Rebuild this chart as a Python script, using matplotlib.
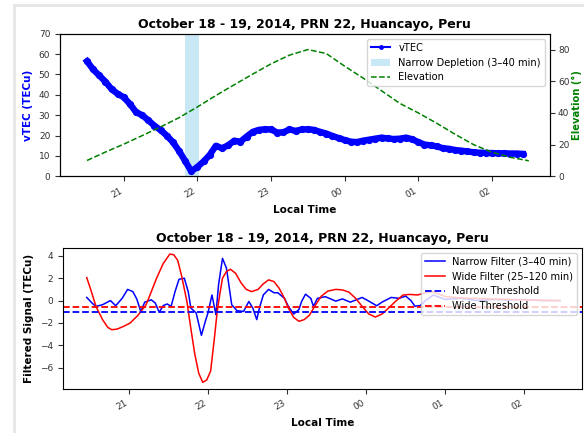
import numpy as np
import pandas as pd
import matplotlib
matplotlib.use("Agg")
from matplotlib import pyplot as plt
import matplotlib.dates as mdates
from matplotlib.lines import Line2D
from matplotlib.patches import Patch

TITLE = "October 18 - 19, 2014, PRN 22, Huancayo, Peru"
BASE = pd.Timestamp("2014-10-18 20:00")

# vTEC, every 5 min from 20:30 (minutes after 20:00)
vtec_min = list(range(30, 390, 5))
vtec = [56.5, 52.5, 49.5, 46.5, 42.8, 40.5, 38.8, 35.5, 31.5, 30.0, 27.5, 24.8,
        22.7, 20.0, 16.8, 12.5, 7.5, 2.5, 4.6, 7.3, 10.5, 15.0, 13.8, 15.2,
        17.5, 17.0, 19.5, 21.8, 22.8, 23.1, 23.0, 21.5, 21.6, 23.0, 22.3, 23.0,
        23.1, 22.8, 21.8, 21.0, 19.8, 18.8, 17.8, 17.0, 16.8, 17.5, 18.0, 18.5,
        19.0, 18.6, 18.3, 18.5, 19.0, 18.2, 16.8, 15.6, 15.2, 14.7, 13.8, 13.5,
        12.9, 12.6, 12.2, 11.8, 11.6, 11.5, 11.4, 11.3, 11.3, 11.2, 11.2, 11.0]

# elevation, every 15 min from 20:30
elev_min = list(range(30, 391, 15))
elev = [10.0, 15.3, 20.3, 25.7, 31.2, 37.0, 43.8, 51.0, 57.8, 64.5, 71.0, 76.5,
        80.0, 77.5, 69.5, 62.0, 54.0, 46.0, 40.0, 33.5, 26.5, 20.0, 15.2, 12.0, 9.8]

depletion_min = [110, 121]

# narrow filter (3-40 min)
narrow_min = [28, 32, 35, 40, 46, 50, 55, 59, 63, 66, 69, 72, 77, 80, 83, 86, 89,
              92, 95, 98, 102, 105, 107, 111, 115, 118, 120, 123, 126, 128, 131,
              134, 138, 142, 147, 151, 154, 157, 159, 162, 166, 170, 173, 178,
              181, 185, 189, 191, 194, 198, 200, 203, 209, 217, 222, 228, 237,
              242, 248, 252, 259, 265, 270, 274, 277, 281, 285, 291, 300, 312,
              324, 336, 348, 360, 372, 387]
narrow = [0.28, -0.22, -0.52, -0.37, 0.0, -0.46, 0.22, 1.0, 0.8, 0.13, -0.97,
          -0.14, 0.07, -0.22, -1.05, -0.45, -0.3, -0.52, 0.8, 1.9, 2.0, 0.8,
          -0.67, -1.1, -3.1, -1.85, -1.1, 0.5, -1.26, 1.4, 3.77, 2.9, -0.37,
          -0.9, -0.97, -0.08, -0.67, -1.7, -0.67, 0.51, 1.0, 0.7, 0.7, 0.2,
          -0.52, -1.2, -0.8, -0.08, 0.57, 0.2, -0.52, 0.2, 0.35, -0.05, 0.15,
          -0.14, 0.28, -0.05, -0.46, -0.14, 0.28, 0.2, 0.4, 0.0, -0.5, -0.45,
          0.0, 0.5, 0.1, 0.2, 0.0, 0.1, 0.05, 0.1, 0.0, 0.0]

# wide filter (25-120 min)
wide_min = [28, 31, 35, 40, 44, 47, 51, 56, 61, 67, 73, 77, 81, 86, 91, 94, 97,
            100, 104, 107, 110, 113, 116, 119, 122, 125, 127, 129, 131, 134, 137,
            141, 145, 149, 153, 158, 162, 166, 170, 174, 178, 181, 185, 189, 193,
            197, 201, 206, 211, 217, 222, 227, 232, 237, 242, 247, 252, 257, 262,
            268, 273, 279, 285, 290, 295, 300, 310, 320, 335, 350, 365, 387]
wide = [2.05, 1.0, -0.52, -1.7, -2.4, -2.6, -2.55, -2.3, -2.0, -1.3, -0.37, 0.8,
        2.0, 3.3, 4.15, 4.1, 3.6, 2.2, -0.08, -2.5, -4.8, -6.5, -7.3, -7.1, -6.3,
        -3.2, -0.97, 0.6, 2.0, 2.6, 2.8, 2.43, 1.6, 1.0, 0.8, 1.0, 1.5, 1.85,
        1.7, 1.1, 0.2, -0.67, -1.5, -1.85, -1.7, -1.3, -0.5, 0.4, 0.85, 1.0,
        0.95, 0.75, 0.2, -0.52, -1.2, -1.47, -1.2, -0.67, -0.1, 0.5, 0.55, 0.5,
        0.7, 0.8, 0.6, 0.36, 0.25, 0.2, 0.15, 0.1, 0.05, 0.0]

narrow_thr = -1.0
wide_thr = -0.58


def to_time(mins):
    return BASE + pd.to_timedelta(mins, unit="m")


def fmt_time_axis(ax):
    ax.xaxis.set_major_locator(mdates.HourLocator())
    ax.xaxis.set_major_formatter(mdates.DateFormatter("%H"))
    for lab in ax.get_xticklabels():
        lab.set_rotation(30)
        lab.set_ha("right")
    ax.set_xlabel("Local Time", fontsize=7.5, fontweight="bold")
    ax.tick_params(labelsize=6.5, colors="#333333", labelcolor="#333333")


fig = plt.figure(figsize=(5.84, 4.33), dpi=100)

# light frame of the screenshot
fig.add_artist(Line2D([0.024, 0.024], [0, 0.988], color="#e6e6e6", lw=2))
fig.add_artist(Line2D([0.024, 1], [0.988, 0.988], color="#e6e6e6", lw=2))

# top panel
ax1 = fig.add_axes([0.1027, 0.5928, 0.8385, 0.3293])
ax1.axvspan(to_time(depletion_min[0]), to_time(depletion_min[1]),
            color="skyblue", alpha=0.45, lw=0)
ax1.plot(to_time(vtec_min), vtec, color="blue", lw=4.6, marker="o", ms=4.2)
ax1.set_ylim(0, 70)
ax1.set_xlim(to_time(8), to_time(407))
ax1.set_ylabel("vTEC (TECu)", color="blue", fontsize=7.5, fontweight="bold")
ax1.set_title(TITLE, fontsize=9, fontweight="bold", pad=4)
fmt_time_axis(ax1)

ax2 = ax1.twinx()
ax2.plot(to_time(elev_min), elev, "g--", lw=1.1)
ax2.set_ylim(0, 90)
ax2.set_yticks([0, 20, 40, 60, 80])
ax2.set_ylabel("Elevation (°)", color="green", fontsize=7.2, fontweight="bold",
               labelpad=2)
ax2.tick_params(labelsize=6.5, colors="#333333", labelcolor="#333333", pad=2.5)

handles = [Line2D([], [], color="blue", lw=1.5, marker=".", ms=5),
           Patch(facecolor="skyblue", alpha=0.45),
           Line2D([], [], color="green", ls="--", lw=1.1)]
ax2.legend(handles, ["vTEC", "Narrow Depletion (3–40 min)", "Elevation"],
           loc="upper right", fontsize=7.1)

# bottom panel
ax3 = fig.add_axes([0.1079, 0.1023, 0.8892, 0.3256])
ax3.plot(to_time(narrow_min), narrow, color="blue", lw=1.1, label="Narrow Filter (3–40 min)")
ax3.plot(to_time(wide_min), wide, color="red", lw=1.1, label="Wide Filter (25–120 min)")
ax3.axhline(narrow_thr, color="blue", ls="--", lw=1.3, label="Narrow Threshold")
ax3.axhline(wide_thr, color="red", ls="--", lw=1.3, label="Wide Threshold")
ax3.set_xlim(to_time(10), to_time(404))
ax3.set_yticks([-6, -4, -2, 0, 2, 4])
ax3.set_ylabel("Filtered Signal (TECu)", fontsize=7.5, fontweight="bold")
ax3.set_title(TITLE, fontsize=9, fontweight="bold", pad=4)
fmt_time_axis(ax3)
ax3.legend(loc="upper right", fontsize=7.1)

fig.savefig("out.png", dpi=100)
